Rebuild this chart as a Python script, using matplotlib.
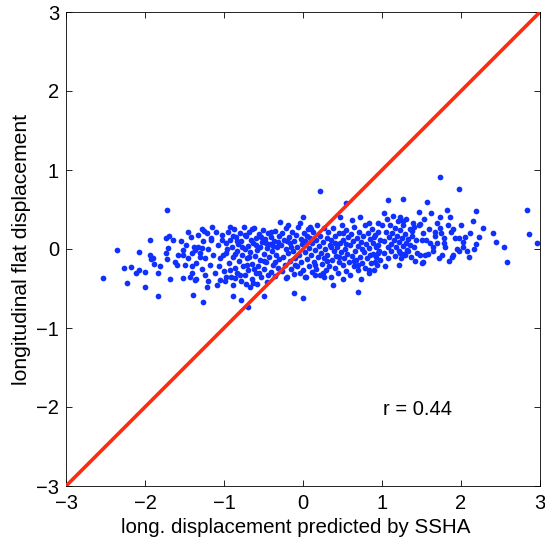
import matplotlib
matplotlib.use("Agg")
import matplotlib.pyplot as plt
import numpy as np

# scattered points (x, y)
pts_read = [
    (-1.72, 0.49), (-1.94, 0.11), (-2.36, -0.01), (-2.07, -0.04), (-1.69, 0.17), (-1.73, 0.14),
    (-1.64, 0.11), (-1.71, 0.01), (-1.74, -0.05), (-1.94, -0.08), (-1.90, -0.11), (-1.93, -0.13),
    (-1.72, -0.13), (-1.89, -0.19), (-1.81, -0.21), (-1.62, -0.16), (-1.60, -0.20), (-2.26, -0.24),
    (-2.18, -0.23), (-2.08, -0.27), (-2.11, -0.31), (-2.00, -0.29), (-1.83, -0.31), (-2.53, -0.37),
    (-2.23, -0.43), (-1.68, -0.38), (-2.00, -0.48), (-1.84, -0.59),
    (-0.29, 0.34), (-1.28, 0.25), (-1.25, 0.23), (-1.16, 0.14), (-1.52, -0.01), (-1.52, -0.08),
    (-1.41, -0.05), (-1.37, -0.01), (-1.33, 0.03), (-1.28, 0.01), (-1.30, -0.10), (-1.41, -0.22),
    (-1.43, -0.35), (-1.52, -0.37), (-1.37, -0.39), (-1.24, -0.33), (-1.22, -0.48), (-1.39, -0.58),
    (-1.26, -0.67), (-1.09, -0.46), (-0.88, -0.60), (-0.78, -0.65), (-0.69, -0.73), (-0.67, -0.48),
    (-0.63, -0.43), (-0.50, -0.60), (-0.86, -0.37), (-0.97, -0.35), (-1.05, -0.39),
    (0.22, 0.74), (0.54, 0.58), (-0.19, 0.30), (0.00, 0.40), (-0.04, 0.33), (0.09, 0.28),
    (0.47, 0.41), (0.72, 0.41), (0.83, 0.33), (0.95, 0.33), (0.62, 0.37), (-0.12, -0.56),
    (0.00, -0.62), (0.70, -0.55), (0.51, -0.38), (0.38, -0.46), (0.15, -0.33), (0.26, -0.35),
    (0.83, -0.27), (0.95, -0.05), (0.91, -0.16), (0.03, -0.35), (-0.21, -0.37),
    (1.73, 0.91), (1.97, 0.76), (1.07, 0.62), (1.27, 0.63), (1.57, 0.59), (1.47, 0.47),
    (1.82, 0.50), (2.19, 0.48), (1.02, 0.45), (1.23, 0.41), (1.73, 0.40), (1.86, 0.40),
    (1.27, 0.35), (1.39, 0.33), (1.48, 0.32), (1.73, 0.27), (1.67, 0.22), (1.38, 0.23),
    (1.52, 0.20), (1.87, 0.21), (2.11, 0.20), (1.92, 0.14), (1.98, 0.14), (2.03, 0.09),
    (1.67, 0.16), (1.78, 0.14), (1.61, 0.07), (1.69, 0.07), (1.78, 0.07), (1.50, 0.11),
    (2.03, 0.03), (2.19, 0.06), (2.16, 0.00), (2.07, -0.03), (1.98, -0.03), (1.90, -0.08),
    (1.88, -0.10), (1.76, -0.08), (1.65, -0.03), (1.54, -0.08), (1.48, -0.08), (1.42, -0.15),
    (1.52, -0.16), (1.21, -0.20), (1.04, -0.22), (1.23, -0.05), (1.29, -0.08), (1.33, -0.03),
    (2.83, 0.49), (2.28, 0.26), (2.23, 0.15), (2.40, 0.20), (2.44, 0.09), (2.55, 0.03),
    (2.86, 0.19), (2.96, 0.08), (2.58, -0.16),
]

# dense band (x, y)
pts_dense = [
    (-1.08, 0.05), (-1.05, -0.12), (-1.02, 0.18), (-1.00, -0.28), (-0.98, 0.08), (-0.97, -0.05),
    (-0.95, 0.22), (-0.94, -0.18), (-0.92, 0.12), (-0.91, -0.36), (-0.90, 0.02), (-0.88, -0.10),
    (-0.87, 0.25), (-0.86, -0.24), (-0.85, 0.15), (-0.84, -0.02), (-0.83, -0.31), (-0.82, 0.06),
    (-0.81, -0.15), (-0.80, 0.20), (-0.79, -0.40), (-0.78, 0.10), (-0.77, -0.07), (-0.76, -0.22),
    (-0.75, 0.28), (-0.74, 0.00), (-0.73, -0.33), (-0.72, 0.16), (-0.71, -0.12), (-0.70, 0.04),
    (-0.69, -0.27), (-0.68, 0.22), (-0.67, -0.04), (-0.66, 0.11), (-0.65, -0.19), (-0.64, -0.38),
    (-0.63, 0.07), (-0.62, 0.26), (-0.61, -0.09), (-0.60, -0.30), (-0.59, 0.14), (-0.58, -0.01),
    (-0.57, -0.21), (-0.56, 0.19), (-0.55, 0.03), (-0.54, -0.14), (-0.53, -0.35), (-0.52, 0.09),
    (-0.51, 0.24), (-0.50, -0.06), (-0.49, -0.25), (-0.48, 0.13), (-0.47, -0.17), (-0.46, 0.01),
    (-0.45, -0.42), (-0.44, 0.20), (-0.43, -0.10), (-0.42, 0.06), (-0.41, -0.29), (-0.40, 0.15),
    (-0.39, -0.03), (-0.38, -0.20), (-0.37, 0.10), (-0.36, -0.34), (-0.35, 0.23), (-0.34, -0.07),
    (-0.33, 0.02), (-0.32, -0.24), (-0.31, 0.17), (-0.30, -0.13),
    (-1.06, -0.22), (-1.03, 0.12), (-0.99, -0.40), (-0.96, 0.00), (-0.93, -0.26), (-0.89, 0.16),
    (-0.86, -0.06), (-0.83, 0.10), (-0.80, -0.33), (-0.77, 0.02), (-0.74, 0.18), (-0.71, -0.20),
    (-0.68, -0.10), (-0.65, 0.25), (-0.62, -0.25), (-0.59, 0.05), (-0.56, -0.30), (-0.53, 0.15),
    (-0.50, -0.15), (-0.47, 0.08), (-0.44, -0.33), (-0.41, 0.21), (-0.38, 0.04), (-0.35, -0.17),
    (-0.32, 0.09), (-1.01, -0.08), (-0.92, 0.28), (-0.88, -0.45), (-0.72, -0.44), (-0.58, -0.44),
    (-0.28, 0.05), (-0.27, -0.28), (-0.26, 0.20), (-0.25, -0.10), (-0.24, 0.12), (-0.23, -0.20),
    (-0.22, 0.00), (-0.21, 0.27), (-0.20, -0.35), (-0.19, -0.05), (-0.18, 0.15), (-0.17, -0.15),
    (-0.16, 0.08), (-0.15, -0.25), (-0.14, 0.22), (-0.13, -0.02), (-0.12, -0.32), (-0.11, 0.10),
    (-0.10, -0.12), (-0.09, 0.18), (-0.08, -0.22), (-0.07, 0.03), (-0.06, 0.28), (-0.05, -0.08),
    (-0.04, -0.30), (-0.03, 0.13), (-0.02, -0.17), (-0.01, 0.06), (0.00, -0.26), (0.01, 0.20),
    (0.02, -0.04), (0.03, 0.10), (0.04, -0.36), (0.05, -0.13), (0.06, 0.25), (0.07, 0.01),
    (0.08, -0.21), (0.09, 0.14), (0.10, -0.08), (0.11, -0.29), (0.12, 0.07), (0.13, 0.22),
    (0.14, -0.16), (0.15, -0.01), (0.16, 0.12), (0.17, -0.25), (0.18, 0.30), (0.19, -0.10),
    (0.20, 0.04), (0.21, -0.33), (0.22, 0.17), (0.23, -0.05), (0.24, -0.19), (0.25, 0.09),
    (0.26, 0.26), (0.27, -0.12), (0.28, 0.00), (0.29, -0.27), (0.30, 0.14), (0.31, -0.07),
    (0.32, 0.21), (0.33, -0.22), (0.34, 0.05), (0.35, -0.35), (0.36, 0.11), (0.37, -0.14),
    (0.38, 0.27), (0.39, -0.02), (0.40, -0.24), (0.41, 0.16), (0.42, -0.09), (0.43, 0.03),
    (0.44, -0.30), (0.45, 0.20), (0.46, -0.17), (0.47, 0.08), (0.48, -0.04), (0.49, 0.31),
    (0.50, -0.20), (0.51, 0.12), (0.52, -0.11), (0.53, 0.00), (0.54, -0.28), (0.55, 0.24),
    (0.56, -0.06), (0.57, 0.15), (0.58, -0.16), (0.59, 0.05), (0.60, -0.33), (0.61, 0.19),
    (0.62, -0.09), (0.63, 0.10), (0.64, -0.22), (0.65, 0.28), (0.66, -0.02), (0.67, -0.14),
    (0.68, 0.14), (0.69, -0.26), (0.70, 0.04), (0.71, 0.22), (0.72, -0.10), (0.73, -0.38),
    (0.74, 0.09), (0.75, -0.18), (0.76, 0.17), (0.77, -0.04), (0.78, 0.30), (0.79, -0.24),
    (0.80, 0.06), (0.81, -0.12), (0.82, 0.20), (0.83, -0.30), (0.84, 0.01), (0.85, 0.13),
    (0.86, -0.18), (0.87, 0.25), (0.88, -0.06), (0.89, 0.08), (0.90, -0.26), (0.91, 0.18),
    (0.92, -0.10), (0.93, 0.03), (0.94, -0.20), (0.95, 0.22), (0.96, -0.02), (0.97, 0.12),
    (0.98, -0.14),
    (-0.20, 0.10), (-0.10, -0.20), (0.05, 0.17), (0.15, -0.20), (0.25, -0.30), (0.35, 0.02),
    (0.45, -0.10), (0.55, 0.06), (0.65, -0.15), (0.75, 0.00), (0.85, -0.08), (0.95, 0.05),
    (-0.15, 0.02), (0.00, 0.10), (0.10, 0.25), (0.30, -0.15), (0.50, 0.20), (0.70, -0.20),
    (0.90, 0.15), (0.40, 0.08),
    (1.00, 0.30), (1.02, 0.10), (1.03, -0.05), (1.05, 0.22), (1.06, 0.38), (1.07, 0.02),
    (1.08, -0.12), (1.09, 0.15), (1.10, 0.30), (1.11, 0.06), (1.12, -0.03), (1.13, 0.20),
    (1.14, 0.42), (1.15, 0.11), (1.16, -0.09), (1.17, 0.26), (1.18, 0.03), (1.19, 0.17),
    (1.20, 0.35), (1.21, -0.02), (1.22, 0.09), (1.23, 0.24), (1.24, -0.12), (1.25, 0.14),
    (1.26, 0.04), (1.27, 0.30), (1.28, -0.06), (1.29, 0.19), (1.30, 0.08), (1.31, 0.38),
    (1.32, -0.01), (1.33, 0.13), (1.35, 0.25), (1.36, 0.05), (1.37, -0.10), (1.38, 0.17),
    (1.40, 0.28), (1.41, 0.02), (1.43, 0.12), (1.44, -0.05),
    (-1.55, 0.10), (-1.50, -0.20), (-1.48, 0.05), (-1.45, -0.12), (-1.42, 0.15), (-1.40, -0.30),
    (-1.38, 0.02), (-1.35, -0.18), (-1.33, 0.18), (-1.30, -0.05), (-1.28, -0.25), (-1.26, 0.10),
    (-1.24, -0.12), (-1.22, 0.20), (-1.20, 0.00), (-1.18, -0.20), (-1.16, 0.12), (-1.14, -0.08),
    (-1.12, -0.30), (-1.10, 0.22), (-1.58, -0.08), (-1.46, 0.22), (-1.36, -0.38), (-1.20, -0.40),
    (-1.15, 0.28),
    (1.47, 0.30), (1.50, -0.18), (1.53, 0.38), (1.56, 0.12), (1.58, -0.06), (1.60, 0.25),
    (1.62, 0.45), (1.64, 0.02), (1.70, 0.33), (1.72, -0.12), (1.75, 0.20), (1.80, 0.02),
    (1.83, 0.30), (1.85, -0.15), (1.90, 0.25), (1.95, 0.00), (2.00, 0.30), (2.05, 0.15),
    (2.10, -0.10), (2.15, 0.35),
]

ticks = [-3, -2, -1, 0, 1, 2, 3]
line_x = [-3, 3]
line_y = [-3, 3]
r_text = "r = 0.44"

plt.rcParams['font.family'] = ['Liberation Sans', 'DejaVu Sans']

fig = plt.figure(figsize=(5.45, 5.38), dpi=100)
ax = fig.add_axes([66/545, 1 - 486/538, (540 - 66)/545, (486 - 12)/538])

pts = np.array(pts_read + pts_dense)
ax.scatter(pts[:, 0], pts[:, 1], s=17, color='#1030ff', linewidths=0, zorder=2)
ax.plot(line_x, line_y, color='#ff2a10', lw=2.6, zorder=3, solid_capstyle='butt')

ax.set_xlim(-3, 3)
ax.set_ylim(-3, 3)
ax.set_xticks(ticks)
ax.set_yticks(ticks)
ax.tick_params(direction='in', top=True, right=True, length=4, width=0.6,
               labelsize=14.5)
ax.tick_params(axis='x', pad=6)
ax.tick_params(axis='y', pad=5)
for s in ax.spines.values():
    s.set_linewidth(0.6)
ax.set_xlabel('long. displacement predicted by SSHA', fontsize=14.8, va='center')
ax.set_ylabel('longitudinal flat displacement', fontsize=15.2, va='center')
ax.xaxis.set_label_coords(0.484, -0.088)
ax.yaxis.set_label_coords(-0.093, 0.5)
ax.text(1.01, -2.03, r_text, fontsize=14.5, va='center', ha='left')

fig.savefig('out.png', dpi=100)
